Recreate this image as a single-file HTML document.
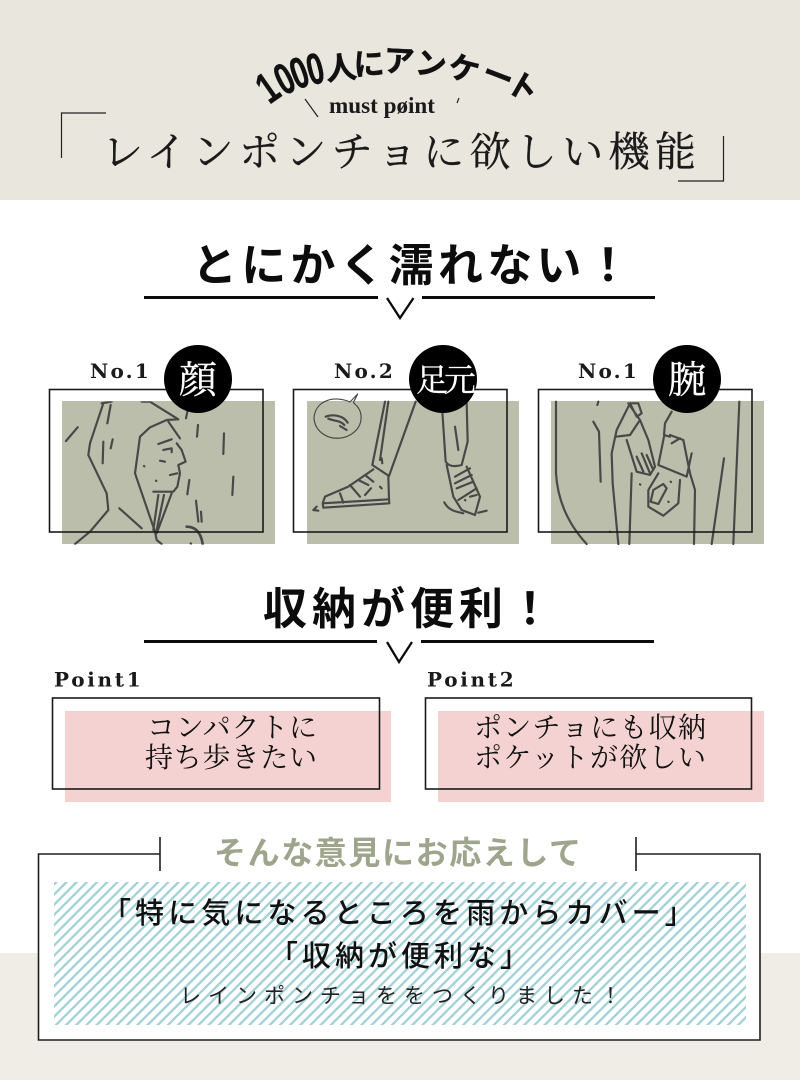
<!DOCTYPE html>
<html lang="ja">
<head>
<meta charset="utf-8">
<title>レインポンチョに欲しい機能</title>
<style>
html,body{margin:0;padding:0;background:#fff;width:800px;height:1080px;overflow:hidden}
svg{display:block}
.sans{font-family:"Liberation Sans","Noto Sans CJK JP",sans-serif}
.ser{font-family:"Liberation Serif","Noto Serif CJK SC",serif}
.lab{font-family:"DejaVu Serif","Liberation Serif",serif;font-weight:700}
.d{fill:none;stroke:#484848;stroke-width:6.500;stroke-linecap:round;stroke-linejoin:round}
.d2{fill:none;stroke:#484848;stroke-width:3.500;stroke-linecap:round;stroke-linejoin:round}
</style>
</head>
<body>
<svg width="800" height="1080" viewBox="0 0 800 1080" xmlns="http://www.w3.org/2000/svg">
<defs>
<pattern id="h" width="7.200" height="8" patternUnits="userSpaceOnUse" patternTransform="rotate(45)">
<rect width="7.200" height="8" fill="#fff"/>
<rect x="0" width="2.300" height="8" fill="#a3d1d8"/>
</pattern>
<clipPath id="c1"><rect x="0" y="184" width="706" height="430"/></clipPath>
</defs>

<rect width="800" height="1080" fill="#fff"/>
<rect width="800" height="200" fill="#e9e6de"/>
<rect y="953" width="800" height="127" fill="#f0ede7"/>

<!-- curved heading -->
<g class="sans" font-weight="700" fill="#111" stroke="#111" stroke-width=".4" text-anchor="middle">
<g font-size="44">
<text transform="translate(267,87) rotate(-35) scale(.68 1)" y="16">1</text>
<text transform="translate(284,78) rotate(-27) scale(.68 1)" y="16">0</text>
<text transform="translate(299,72) rotate(-20) scale(.68 1)" y="16">0</text>
<text transform="translate(315,68) rotate(-14) scale(.68 1)" y="16">0</text>
</g>
<g font-size="31">
<text transform="translate(341,68) rotate(-6)" y="11">人</text>
<text transform="translate(369,64) rotate(-3)" y="11">に</text>
<text transform="translate(399,61) rotate(3)" y="11">ア</text>
<text transform="translate(431,64) rotate(9)" y="11">ン</text>
<text transform="translate(464,69) rotate(15)" y="11">ケ</text>
<text transform="translate(498,76) rotate(21)" y="11">ー</text>
<text transform="translate(523,87) rotate(30)" y="11">ト</text>
</g>
</g>
<path d="M305,99 L318,117" stroke="#222" fill="none" stroke-width="1.200"/>
<path d="M459,98 L457,103" stroke="#222" fill="none" stroke-width="1.200"/>
<text x="329" y="113" class="ser" font-size="23" font-weight="700" fill="#1a1a1a" textLength="106" lengthAdjust="spacingAndGlyphs">must pøint</text>

<!-- title brackets -->
<path d="M61.500,158 V113 H106" fill="none" stroke="#222" stroke-width="1.200"/>
<path d="M678,181 H723.500 V136" fill="none" stroke="#222" stroke-width="1.200"/>
<text x="102" y="166" class="ser" font-size="41" fill="#1a1a1a" stroke="#1a1a1a" stroke-width=".3" textLength="594" lengthAdjust="spacing">レインポンチョに欲しい機能</text>

<!-- heading 1 -->
<text x="192" y="281" class="sans" font-size="45" font-weight="700" fill="#0c0c0c" letter-spacing="4.200">とにかく濡れない！</text>
<path d="M144,297.500 H378 M422,297.500 H655" stroke="#0c0c0c" stroke-width="3" fill="none"/>
<path d="M387,298 L400,318 L413.500,298" fill="none" stroke="#0c0c0c" stroke-width="2.300"/>

<!-- panel 1 -->
<rect x="62" y="401" width="213" height="143" fill="#bbbeab"/>
<g transform="translate(40,340) scale(.33333)" clip-path="url(#c1)">
<path class="d" d="M190,190 L150,310 L145,345 L200,460 L205,510 L150,575 L105,612"/>
<path class="d" d="M185,190 L215,185 M305,185 L330,185 L415,238 L380,240 L330,262 L300,290 L285,400 L345,575 L350,600 L365,612"/>
<path class="d" d="M385,245 L420,295 M355,312 L395,298 M410,310 L425,330 L437,365 L415,375 L420,400 L412,440 L400,455 L340,455"/>
<path class="d" d="M370,330 L395,325 L395,337 M360,362 L375,365 M390,405 L412,400 M355,465 L340,570 M372,465 L350,570 M395,460 L350,580 M238,505 L305,565"/>
<path class="d" d="M312,378 l1,1 M348,422 l1,1 M452,610 l1,1"/>
<path class="d" d="M212,195 L202,250 M190,305 L188,370 M218,298 L212,325 M113,262 L78,303 M442,215 L438,235 M474,255 L471,290 M552,280 L550,342 M580,410 L577,465 M448,420 L442,463 M468,482 L475,545 M483,515 L485,545"/>
<path class="d" style="stroke-width:8" d="M440,560 Q480,560 488,612"/>
</g>
<rect x="49.500" y="389.500" width="213.500" height="142.500" fill="none" stroke="#1a1a1a" stroke-width="1.600"/>
<circle cx="198" cy="379" r="34" fill="#000"/>
<text x="198" y="393" text-anchor="middle" class="ser" font-size="38" fill="#fff" stroke="#fff" stroke-width=".3">顔</text>
<text x="90" y="378" class="lab" font-size="20" fill="#1a1a1a" letter-spacing="2.200">No.1</text>

<!-- panel 2 -->
<rect x="307" y="401" width="212" height="143" fill="#bbbeab"/>
<g transform="translate(285,340) scale(.33333)">
<path class="d2" d="M195,186 C150,165 90,180 87,235 C90,285 150,310 195,285 C235,262 240,215 205,188 L218,162 Z"/>
<path class="d" d="M122,230 C140,222 175,225 188,248 M130,236 C150,245 165,240 178,255 M165,258 L185,270"/>
<path class="d" d="M300,185 L262,375 L312,408 L392,185 M310,185 L285,360 M290,355 L292,370"/>
<path class="d" d="M265,388 L190,440 L120,470 L113,490 L115,503 L313,490 L312,478 L310,410 M113,490 L312,478 M165,460 L175,488 M195,435 L225,470 M220,420 L250,435 M240,405 L265,425 M240,465 L258,445 M285,440 L290,445 M95,500 L85,510 L100,512"/>
<path class="d" d="M472,215 L482,365 M545,190 L548,305 L530,375 M482,365 Q495,385 530,375 M510,260 L520,330"/>
<path class="d" d="M485,375 L505,470 L530,510 L570,525 L585,470 L545,380 M510,410 L555,385 M510,430 L560,405 M515,445 L565,425 M520,480 L575,445 M540,480 l1,1 M555,470 L575,465 M478,487 C490,510 510,515 535,520 M580,518 L605,512"/>
</g>
<rect x="293.500" y="389.500" width="213.500" height="142.500" fill="none" stroke="#1a1a1a" stroke-width="1.600"/>
<circle cx="443" cy="379" r="34" fill="#000"/>
<text x="444" y="391" text-anchor="middle" class="ser" font-size="32" fill="#fff" stroke="#fff" stroke-width=".3" letter-spacing="-4">足元</text>
<text x="334" y="378" class="lab" font-size="20" fill="#1a1a1a" letter-spacing="2.200">No.2</text>

<!-- panel 3 -->
<rect x="551" y="401" width="213" height="143" fill="#bbbeab"/>
<g transform="translate(530,340) scale(.33333)">
<path class="d" d="M78,185 L78,400 Q85,520 170,612 M205,185 L202,195 M190,245 L207,275 L212,425"/>
<path class="d" d="M300,190 L260,270 L245,340 L248,430 L265,612 M295,190 L330,240 L300,285 L258,290 M330,240 L355,300 L375,380 L360,405 L320,395 L290,300 M335,340 L360,400 M320,350 L340,395 M350,345 L370,390 M300,190 L325,190 L335,220 L320,230 Z"/>
<path class="d" d="M425,215 L405,250 L402,285 L420,290 M420,285 L460,300 L480,400 L495,450 L492,612 M402,290 L385,375 L470,410 L485,340 M425,310 L450,295"/>
<path class="d" d="M385,400 L355,450 L355,500 L400,527 L445,490 L450,420 M370,450 L400,432 L410,445 L385,492 L362,485 Z M422,425 l1,1 M415,485 l1,1"/>
<path class="d" d="M610,612 L628,185 M545,612 L582,355 M298,612 L305,400 M330,433 l1,1 M240,575 l1,1"/>
</g>
<rect x="538.500" y="389.500" width="213.500" height="142.500" fill="none" stroke="#1a1a1a" stroke-width="1.600"/>
<circle cx="687" cy="379" r="34" fill="#000"/>
<text x="687" y="393" text-anchor="middle" class="ser" font-size="38" fill="#fff" stroke="#fff" stroke-width=".3">腕</text>
<text x="578" y="378" class="lab" font-size="20" fill="#1a1a1a" letter-spacing="2.200">No.1</text>

<!-- heading 2 -->
<text x="263" y="624" class="sans" font-size="44" font-weight="700" fill="#0c0c0c" letter-spacing="5">収納が便利！</text>
<path d="M144,641.500 H377 M421,641.500 H654" stroke="#0c0c0c" stroke-width="3" fill="none"/>
<path d="M387,642 L399,662 L412,642" fill="none" stroke="#0c0c0c" stroke-width="2.300"/>

<!-- points -->
<text x="54" y="686.500" class="lab" font-size="20" fill="#1a1a1a" letter-spacing="2.700">Point1</text>
<rect x="65" y="711" width="326" height="91" fill="#f3d2d1"/>
<rect x="52.500" y="698" width="327" height="91" fill="none" stroke="#1a1a1a" stroke-width="1.600"/>
<text x="147" y="737" class="ser" font-size="28" fill="#111" textLength="170" lengthAdjust="spacing">コンパクトに</text>
<text x="145" y="767" class="ser" font-size="28" fill="#111" textLength="172" lengthAdjust="spacing">持ち歩きたい</text>

<text x="427" y="686.500" class="lab" font-size="20" fill="#1a1a1a" letter-spacing="2.700">Point2</text>
<rect x="438" y="711" width="326" height="91" fill="#f3d2d1"/>
<rect x="425.500" y="698" width="326" height="91" fill="none" stroke="#1a1a1a" stroke-width="1.600"/>
<text x="474" y="737" class="ser" font-size="28" fill="#111" textLength="232" lengthAdjust="spacing">ポンチョにも収納</text>
<text x="474" y="767" class="ser" font-size="28" fill="#111" textLength="232" lengthAdjust="spacing">ポケットが欲しい</text>

<!-- bottom box -->
<path d="M160,854 H38.500 V1040 H760 V854 H636 Z" fill="#fff"/>
<path d="M160,854 H38.500 V1040 H760 V854 H636" fill="none" stroke="#1f1f1f" stroke-width="1.600"/>
<path d="M160,837 V871 M636,837 V871" stroke="#1f1f1f" stroke-width="1.600" fill="none"/>
<rect x="54" y="882" width="692" height="143" fill="url(#h)"/>
<text x="214" y="864" class="sans" font-size="32" font-weight="700" fill="#9ea58c" letter-spacing="1.600">そんな意見にお応えして</text>
<text x="102" y="923" class="sans" font-size="29" font-weight="500" fill="#111" letter-spacing="4.100">「特に気になるところを雨からカバー」</text>
<text x="269" y="966" class="sans" font-size="29" font-weight="500" fill="#111" letter-spacing="4">「収納が便利な」</text>
<text x="180" y="1003" class="sans" font-size="21" fill="#222" letter-spacing="7">レインポンチョををつくりました！</text>
</svg>
</body>
</html>
